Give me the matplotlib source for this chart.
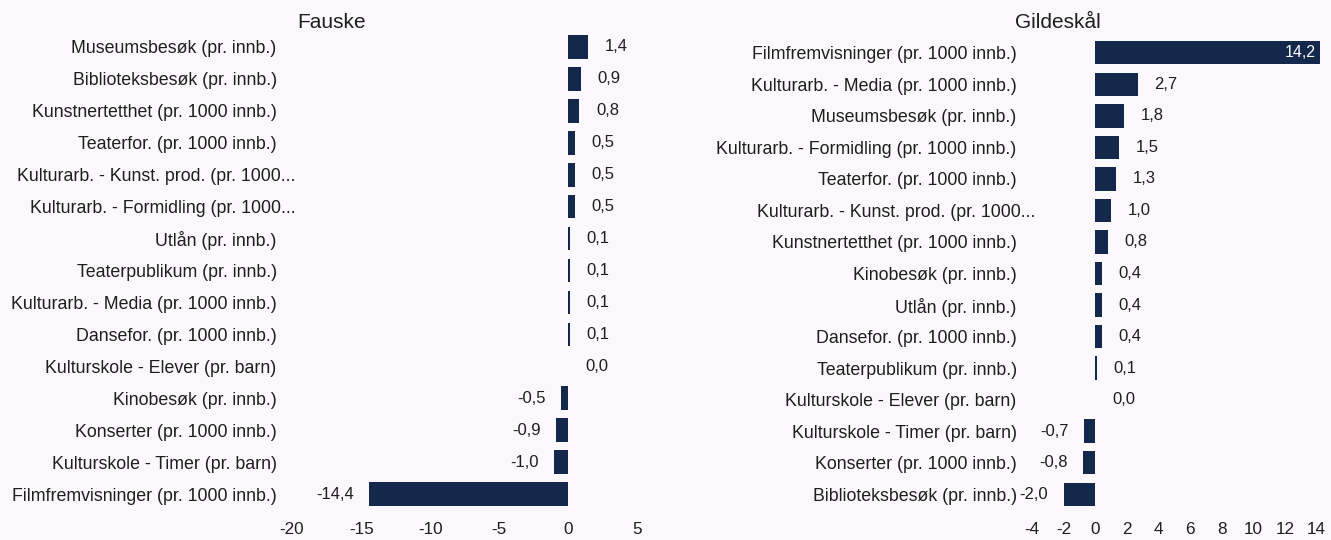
import matplotlib
matplotlib.use("Agg")
import matplotlib.pyplot as plt
from matplotlib.transforms import ScaledTranslation

plt.rcParams['font.family'] = ['Liberation Sans', 'DejaVu Sans']

fauske_labels = [
    "Museumsbesøk (pr. innb.)",
    "Biblioteksbesøk (pr. innb.)",
    "Kunstnertetthet (pr. 1000 innb.)",
    "Teaterfor. (pr. 1000 innb.)",
    "Kulturarb. - Kunst. prod. (pr. 1000...",
    "Kulturarb. - Formidling (pr. 1000...",
    "Utlån (pr. innb.)",
    "Teaterpublikum (pr. innb.)",
    "Kulturarb. - Media (pr. 1000 innb.)",
    "Dansefor. (pr. 1000 innb.)",
    "Kulturskole - Elever (pr. barn)",
    "Kinobesøk (pr. innb.)",
    "Konserter (pr. 1000 innb.)",
    "Kulturskole - Timer (pr. barn)",
    "Filmfremvisninger (pr. 1000 innb.)",
]
fauske_values = [1.4, 0.9, 0.8, 0.5, 0.5, 0.5, 0.1, 0.1, 0.1, 0.1, 0.0, -0.5, -0.9, -1.0, -14.4]

gildeskal_labels = [
    "Filmfremvisninger (pr. 1000 innb.)",
    "Kulturarb. - Media (pr. 1000 innb.)",
    "Museumsbesøk (pr. innb.)",
    "Kulturarb. - Formidling (pr. 1000 innb.)",
    "Teaterfor. (pr. 1000 innb.)",
    "Kulturarb. - Kunst. prod. (pr. 1000...",
    "Kunstnertetthet (pr. 1000 innb.)",
    "Kinobesøk (pr. innb.)",
    "Utlån (pr. innb.)",
    "Dansefor. (pr. 1000 innb.)",
    "Teaterpublikum (pr. innb.)",
    "Kulturskole - Elever (pr. barn)",
    "Kulturskole - Timer (pr. barn)",
    "Konserter (pr. 1000 innb.)",
    "Biblioteksbesøk (pr. innb.)",
]
gildeskal_values = [14.2, 2.7, 1.8, 1.5, 1.3, 1.0, 0.8, 0.4, 0.4, 0.4, 0.1, 0.0, -0.7, -0.8, -2.0]

fauske_ticks = [-20, -15, -10, -5, 0, 5]
gildeskal_ticks = [-4, -2, 0, 2, 4, 6, 8, 10, 12, 14]

BAR = "#13284a"
BG = "#fbf8fb"
TXT = "#1e1e1e"

W, H = 1331, 540
fig = plt.figure(figsize=(W / 100, H / 100), dpi=100, facecolor=BG)


def fr(x0, y_top, x1, y_bot):
    return [x0 / W, 1 - y_bot / H, (x1 - x0) / W, (y_bot - y_top) / H]


def draw(ax, labels, values, ticks, xlim, inside_thresh=None):
    ax.set_facecolor(BG)
    n = len(labels)
    ys = list(range(n))
    ax.barh(ys, values, height=0.74, color=BAR)
    ax.set_ylim(n - 0.5, -0.5)
    ax.set_xlim(*xlim)
    ax.set_yticks(ys)
    ax.set_yticklabels(labels, fontsize=12.8, color=TXT)
    ax.set_xticks(ticks)
    ax.set_xticklabels([str(t) for t in ticks], fontsize=12.3, color=TXT)
    ax.tick_params(axis='both', length=0)
    ax.tick_params(axis='y', pad=11)
    ax.tick_params(axis='x', pad=9)
    for s in ax.spines.values():
        s.set_visible(False)
    shift = ScaledTranslation(0.19, 0, fig.dpi_scale_trans)
    for lab in ax.get_yticklabels():
        if lab.get_text().endswith("..."):
            lab.set_transform(lab.get_transform() + shift)
    for y, v in zip(ys, values):
        txt = f"{v:.1f}".replace('.', ',')
        if inside_thresh is not None and v >= inside_thresh:
            ax.annotate(txt, (v, y), xytext=(-3, 0), textcoords='offset points',
                        ha='right', va='center', color='white', fontsize=11.5)
        elif v >= 0:
            ax.annotate(txt, (v, y), xytext=(12, 0), textcoords='offset points',
                        ha='left', va='center', color=TXT, fontsize=12)
        else:
            ax.annotate(txt, (v, y), xytext=(-11, 0), textcoords='offset points',
                        ha='right', va='center', color=TXT, fontsize=12)


ax1 = fig.add_axes(fr(292, 31, 665, 510))
draw(ax1, fauske_labels, fauske_values, fauske_ticks, (-20, 7))

ax2 = fig.add_axes(fr(1032, 37, 1326, 510))
draw(ax2, gildeskal_labels, gildeskal_values, gildeskal_ticks, (-4, 14.6), inside_thresh=10)

fig.text(297 / W, 1 - 22 / H, "Fauske", fontsize=15, color=TXT, ha='left', va='center')
fig.text(1015 / W, 1 - 22 / H, "Gildeskål", fontsize=15, color=TXT, ha='left', va='center')

fig.savefig("out.png", dpi=100, facecolor=BG)
